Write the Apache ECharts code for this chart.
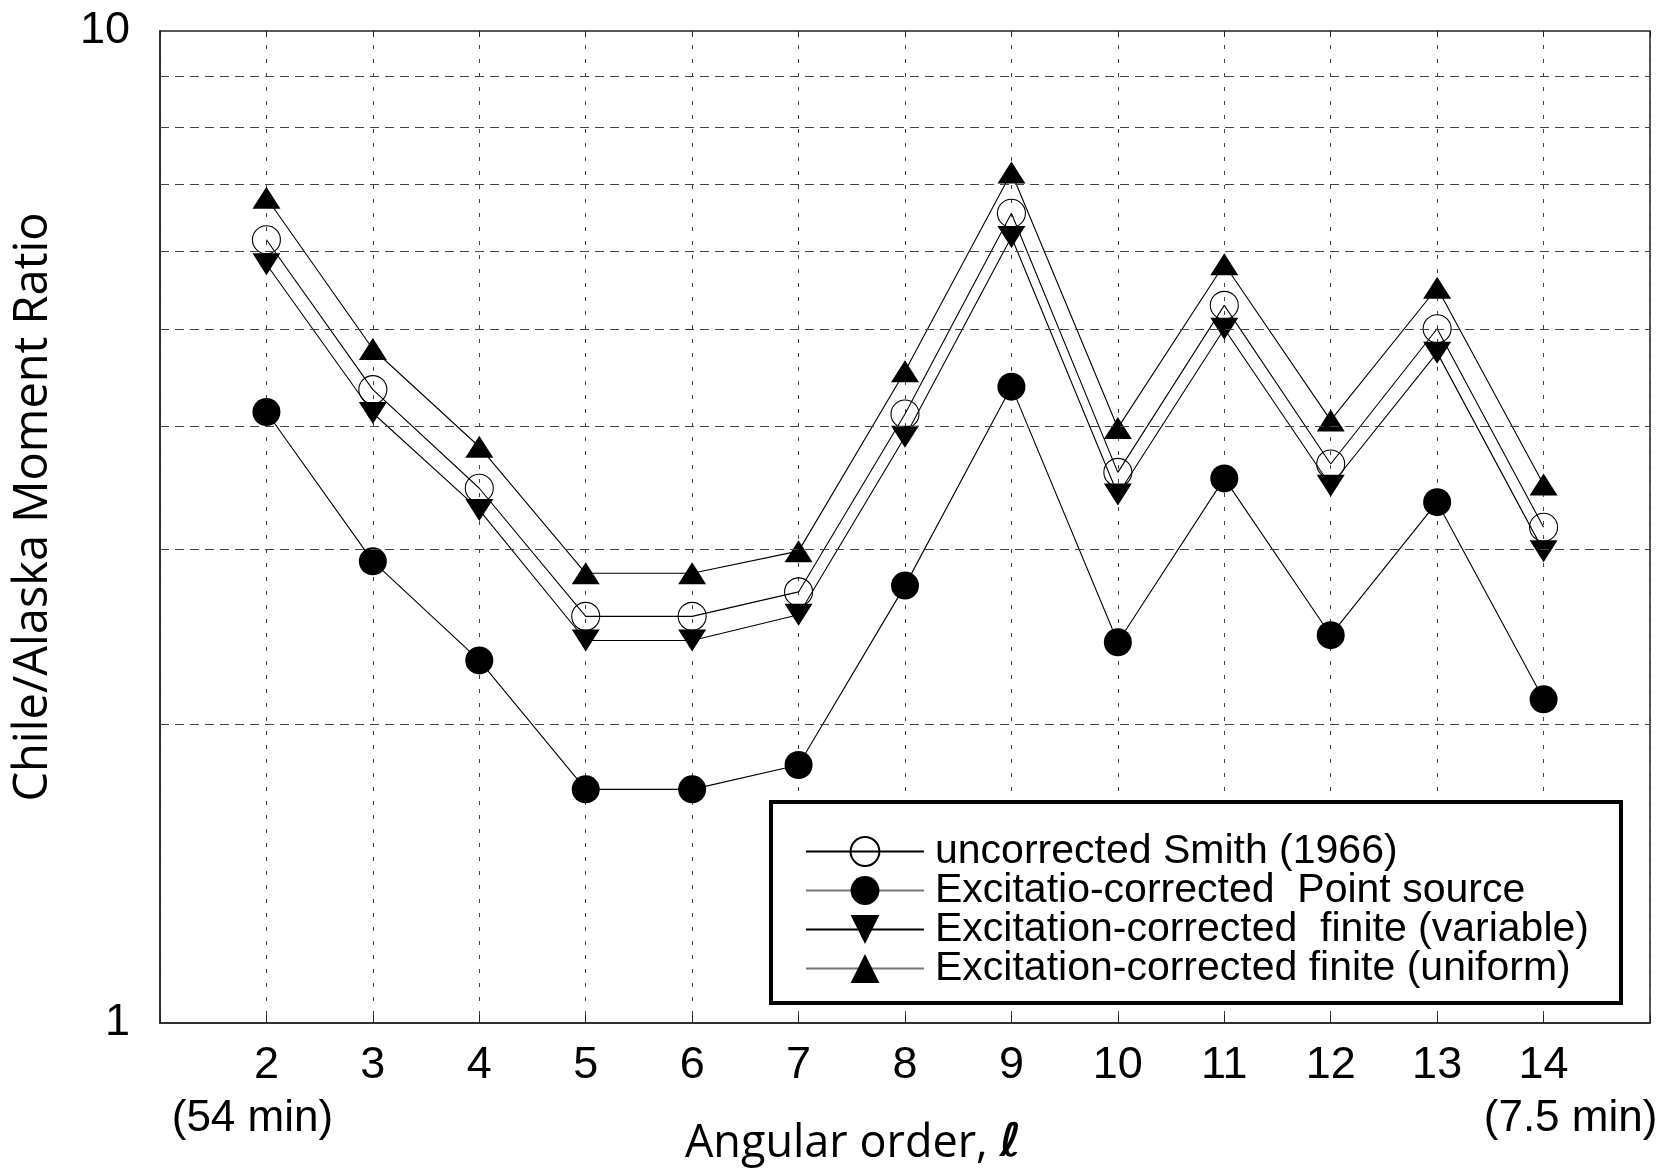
<!DOCTYPE html>
<html>
<head>
<meta charset="utf-8">
<script src="https://cdn.jsdelivr.net/npm/echarts@6/dist/echarts.min.js"></script>
<style>
html,body{margin:0;padding:0;background:#fff;}
#chart{width:1661px;height:1172px;}
</style>
</head>
<body>
<div id="chart"></div>
<script>
// ---- data ----
const categories = [2, 3, 4, 5, 6, 7, 8, 9, 10, 11, 12, 13, 14];
const uncorrected   = [6.16, 4.35, 3.46, 2.57, 2.57, 2.72, 4.11, 6.55, 3.59, 5.29, 3.66, 5.01, 3.16];
const pointSource   = [4.13, 2.92, 2.32, 1.72, 1.72, 1.82, 2.76, 4.38, 2.42, 3.54, 2.46, 3.35, 2.12];
const finiteVariable= [5.82, 4.12, 3.29, 2.43, 2.43, 2.58, 3.90, 6.20, 3.41, 5.01, 3.48, 4.74, 2.99];
const finiteUniform = [6.79, 4.78, 3.81, 2.84, 2.84, 2.99, 4.54, 7.20, 3.98, 5.82, 4.05, 5.51, 3.49];
const seriesNames = [
  'uncorrected Smith (1966)',
  'Excitatio-corrected  Point source',
  'Excitation-corrected  finite (variable)',
  'Excitation-corrected finite (uniform)'
];
const yGridValues = [2, 3, 4, 5, 6, 7, 8, 9];
const yTickLabels = [1, 10];
const subLabels = { 2: '(54 min)', 14: '(7.5 min)' };
const xTitle = 'Angular order, ';
const yTitle = 'Chile/Alaska Moment Ratio';

const pairs = arr => categories.map((c, i) => [c, arr[i]]);

const chart = echarts.init(document.getElementById('chart'), null, { renderer: 'canvas' });

const lineStyle = { color: '#000', width: 1.1 };
const baseSeries = {
  type: 'line',
  xAxisIndex: 0,
  yAxisIndex: 0,
  lineStyle: lineStyle,
  emphasis: { disabled: true },
  silent: true,
  animation: false,
  z: 3
};

const option = {
  backgroundColor: '#fff',
  animation: false,
  grid: {
    left: 160, top: 31, right: 11, bottom: 149,
    show: true, borderColor: '#222', borderWidth: 1.5, backgroundColor: 'transparent'
  },
  xAxis: [{
    type: 'value', min: 1, max: 15, interval: 1,
    axisLine: { show: true, lineStyle: { color: '#222', width: 1.5 } },
    axisTick: { show: true, inside: true, length: 8, lineStyle: { color: '#222' } },
    splitLine: { show: true, lineStyle: { color: '#444', width: 1, type: [4, 10] } },
    axisLabel: {
      margin: 20,
      formatter: v => {
        if (!categories.includes(v)) return '';
        return subLabels[v] ? '{a|' + v + '}\n' + (v === 2 ? '{b|' : '{c|') + subLabels[v] + '}' : '{a|' + v + '}';
      },
      rich: {
        a: { fontSize: 45, lineHeight: 46, fontFamily: 'Liberation Sans', color: '#000' },
        b: { fontSize: 44, lineHeight: 46, fontFamily: 'Liberation Sans', color: '#000', padding: [13, 28, 0, 0] },
        c: { fontSize: 44, lineHeight: 46, fontFamily: 'Liberation Sans', color: '#000', padding: [13, 0, 0, 54] }
      }
    }
  }, {
    type: 'value', min: 1, max: 15, interval: 1, position: 'top',
    axisLine: { show: false },
    axisTick: { show: true, inside: true, length: 6, lineStyle: { color: '#222' } },
    axisLabel: { show: false },
    splitLine: { show: false }
  }],
  yAxis: {
    type: 'log', logBase: 10, min: 1, max: 10,
    axisLine: { show: true, lineStyle: { color: '#222', width: 1.5 } },
    axisTick: { show: false },
    splitLine: { show: false },
    axisLabel: {
      margin: 30, fontSize: 45, fontFamily: 'Liberation Sans', color: '#000',
      formatter: v => (yTickLabels.includes(Math.round(v)) ? String(Math.round(v)) : '')
    }
  },
  legend: {
    show: true,
    orient: 'vertical',
    left: 800, top: 826,
    itemWidth: 118, itemHeight: 36, itemGap: -2,
    symbolRotate: 'inherit',
    textStyle: { fontSize: 41, fontFamily: 'Liberation Sans', color: '#000', padding: [0, 0, 0, 6] },
    data: [
      { name: seriesNames[0] },
      { name: seriesNames[1], lineStyle: { color: '#777' } },
      { name: seriesNames[2] },
      { name: seriesNames[3], lineStyle: { color: '#777' } }
    ],
    z: 20
  },
  graphic: [
    { type: 'rect', z: 10, shape: { x: 771, y: 802, width: 850, height: 201 },
      style: { fill: '#fff', stroke: '#000', lineWidth: 4 } },
    { type: 'text', x: 34, y: 507, rotation: Math.PI / 2,
      style: { text: yTitle, fontSize: 47, fontFamily: 'Open Sans', fill: '#000',
               align: 'center', verticalAlign: 'middle' } },
    { type: 'text', x: 853, y: 1144,
      style: { text: xTitle + '{l|ℓ}', fontSize: 45, fontFamily: 'Open Sans', fill: '#000',
               align: 'center', verticalAlign: 'middle',
               rich: { l: { fontSize: 46, fontFamily: 'DejaVu Sans', fontStyle: 'italic', fontWeight: 'bold', fill: '#000' } } } }
  ],
  series: [
    Object.assign({}, baseSeries, {
      name: seriesNames[0], data: pairs(uncorrected),
      symbol: 'circle', symbolSize: 28,
      itemStyle: { color: 'rgba(0,0,0,0)', borderColor: '#000', borderWidth: 1.1 },
      markLine: {
        silent: true, symbol: 'none', animation: false,
        label: { show: false },
        lineStyle: { color: '#444', width: 1, type: [9, 6] },
        data: yGridValues.map(v => ({ yAxis: v }))
      }
    }),
    Object.assign({}, baseSeries, {
      name: seriesNames[1], data: pairs(pointSource),
      symbol: 'circle', symbolSize: 28,
      itemStyle: { color: '#000' }
    }),
    Object.assign({}, baseSeries, {
      name: seriesNames[2], data: pairs(finiteVariable),
      symbol: 'triangle', symbolSize: [28, 22], symbolRotate: 180,
      itemStyle: { color: '#000' }
    }),
    Object.assign({}, baseSeries, {
      name: seriesNames[3], data: pairs(finiteUniform),
      symbol: 'triangle', symbolSize: [28, 22],
      itemStyle: { color: '#000' }
    })
  ]
};

chart.setOption(option);
</script>
</body>
</html>
